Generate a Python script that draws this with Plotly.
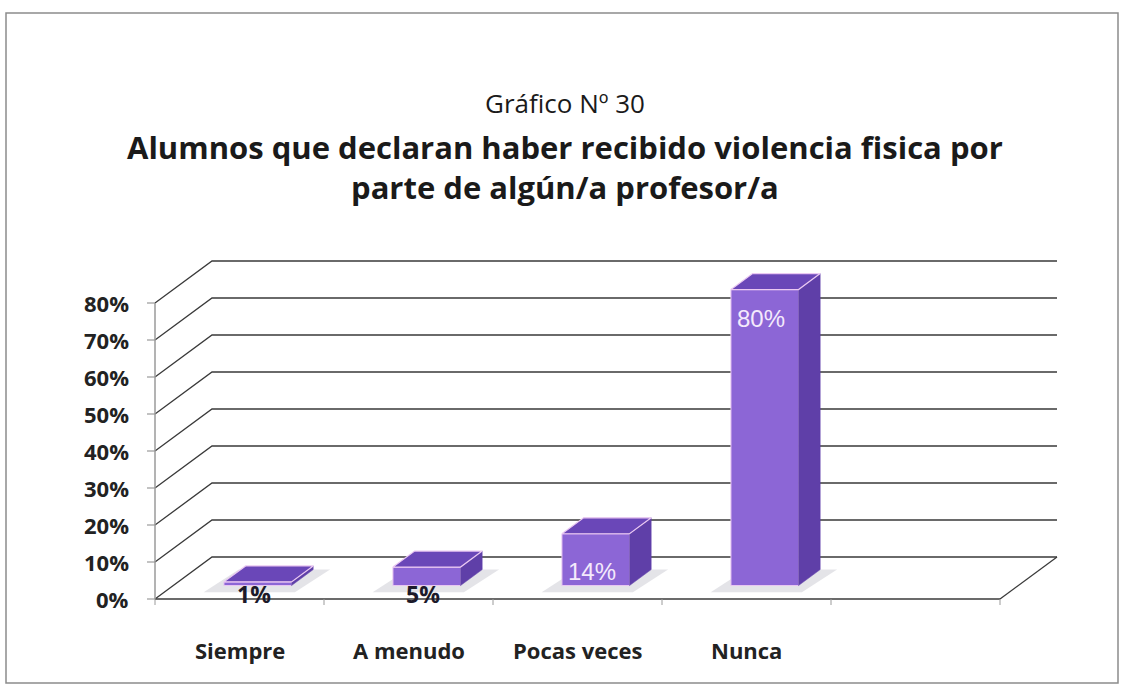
import plotly.graph_objects as go

# Chart data
categories = ["Siempre", "A menudo", "Pocas veces", "Nunca"]
values = [1, 5, 14, 80]
value_labels = ["1%", "5%", "14%", "80%"]
y_ticks = [0, 10, 20, 30, 40, 50, 60, 70, 80]
y_tick_labels = ["0%", "10%", "20%", "30%", "40%", "50%", "60%", "70%", "80%"]
n_slots = 5  # the category axis keeps one empty slot at the right

W, H = 1129, 686
# Pixel scale of the category / value units
PX_PER_SLOT = 169.0
PX_PER_PCT = 3.7
ORIGIN_X, ORIGIN_Y = 155.0, 599.0

# Oblique depth offset of the floor/back wall, in data units
DX = 57.0 / PX_PER_SLOT
DY = 42.0 / PX_PER_PCT

BAR_W = 0.40
D0, D1 = 0.32, 0.70  # bar front / back depth fractions

GRID = "#3a3a3a"
AXIS = "#9a9a9a"
FRONT = "#8c66d6"
SIDE = "#5f3fa8"
TOP = "#6a47b8"
EDGE = "#eac8f2"

fig = go.Figure()


def line(xs, ys, color, width):
    fig.add_trace(go.Scatter(x=xs, y=ys, mode="lines",
                             line=dict(color=color, width=width),
                             hoverinfo="skip", showlegend=False))


def poly(xs, ys, fill, edge=None, ewidth=0, opacity=1.0):
    fig.add_trace(go.Scatter(x=xs + [xs[0]], y=ys + [ys[0]], mode="lines",
                             fill="toself", fillcolor=fill, opacity=opacity,
                             line=dict(color=edge or fill, width=ewidth),
                             hoverinfo="skip", showlegend=False))


# Back wall gridlines and their diagonal links to the front value axis
for v in y_ticks:
    line([0, DX, n_slots + DX], [v, v + DY, v + DY], GRID, 1.3)

# Floor right edge and front edge
line([n_slots, n_slots + DX], [0, DY], GRID, 1.3)
line([0, n_slots], [0, 0], GRID, 1.5)

# Category tick marks
for k in range(n_slots + 1):
    line([k, k], [0, -6 / PX_PER_PCT], AXIS, 1)

# Front value axis with ticks
line([0, 0], [0, y_ticks[-1]], AXIS, 1.5)
for v in y_ticks:
    line([-8 / PX_PER_SLOT, 0], [v, v], AXIS, 1.2)

# 3D bars
ddx = DX * (D1 - D0)
ddy = DY * (D1 - D0)
for i, v in enumerate(values):
    x0 = i + 0.5 - BAR_W / 2 + DX * D0
    x1 = x0 + BAR_W
    b = DY * D0
    t = b + v
    # soft floor shadow
    poly([x0 - 0.12, x1 + 0.02, x1 + ddx + 0.10, x0 + ddx - 0.04],
         [b - 1.8, b - 1.8, b + ddy, b + ddy], "#c4c4cc", opacity=0.45)
    poly([x0, x1, x1, x0], [b, b, t, t], FRONT, EDGE, 1)
    poly([x1, x1 + ddx, x1 + ddx, x1], [b, b + ddy, t + ddy, t], SIDE, SIDE, 0.5)
    poly([x0, x1, x1 + ddx, x0 + ddx], [t, t, t + ddy, t + ddy], TOP, EDGE, 1.2)

    # data labels: short bars get a dark label under the base,
    # taller bars a light one inside the front face
    if v < 10:
        ly, fam, size, col, wt = b - 2.4, "Open Sans", 23, "#1c1a2a", "bold"
    else:
        ly = t - 7.7 if v > 40 else b + 3.7
        fam, size, col, wt = "Liberation Sans, Arial, sans-serif", 24, "#f4eafc", "normal"
    fig.add_annotation(
        x=x0 + BAR_W / 2 - 0.02, y=ly, xref="x", yref="y", yanchor="middle",
        text=value_labels[i], showarrow=False,
        font=dict(family=fam, size=size, color=col, weight=wt),
    )

# Value axis labels
for v, lab in zip(y_ticks, y_tick_labels):
    fig.add_annotation(x=0, y=v, xref="x", yref="y", text=lab,
                       showarrow=False, xanchor="right", xshift=-24,
                       yanchor="middle",
                       font=dict(family="Open Sans", size=22, color="#222222",
                                 weight="bold"))

# Category labels
for i, c in enumerate(categories):
    fig.add_annotation(x=i + 0.5, y=0, xref="x", yref="y", text=c,
                       showarrow=False, yshift=-51, yanchor="middle",
                       font=dict(family="Open Sans", size=22, color="#222222",
                                 weight="bold"))

# Titles
fig.add_annotation(x=0.5, y=1 - 103 / H, xref="paper", yref="paper",
                   yanchor="middle", text="Gráfico Nº 30", showarrow=False,
                   font=dict(family="Open Sans", size=26, color="#1a1a1a"))
fig.add_annotation(x=0.5, y=1 - 167 / H, xref="paper", yref="paper",
                   yanchor="middle",
                   text="Alumnos que declaran haber recibido violencia fisica por"
                        "<br>parte de algún/a profesor/a",
                   showarrow=False,
                   font=dict(family="Open Sans", size=31, color="#1a1a1a",
                             weight="bold"))

# Outer frame
fig.add_shape(type="rect", xref="paper", yref="paper",
              x0=6 / W, x1=1118 / W, y0=1 - 683 / H, y1=1 - 13 / H,
              line=dict(color="#8c8c8c", width=1.5))

fig.update_layout(
    width=W, height=H, autosize=False,
    margin=dict(l=0, r=0, t=0, b=0),
    paper_bgcolor="white", plot_bgcolor="white",
    xaxis=dict(range=[-ORIGIN_X / PX_PER_SLOT, (W - ORIGIN_X) / PX_PER_SLOT],
               visible=False, fixedrange=True),
    yaxis=dict(range=[(ORIGIN_Y - H) / PX_PER_PCT, ORIGIN_Y / PX_PER_PCT],
               visible=False, fixedrange=True),
    showlegend=False,
)

fig.write_html("out.html")
